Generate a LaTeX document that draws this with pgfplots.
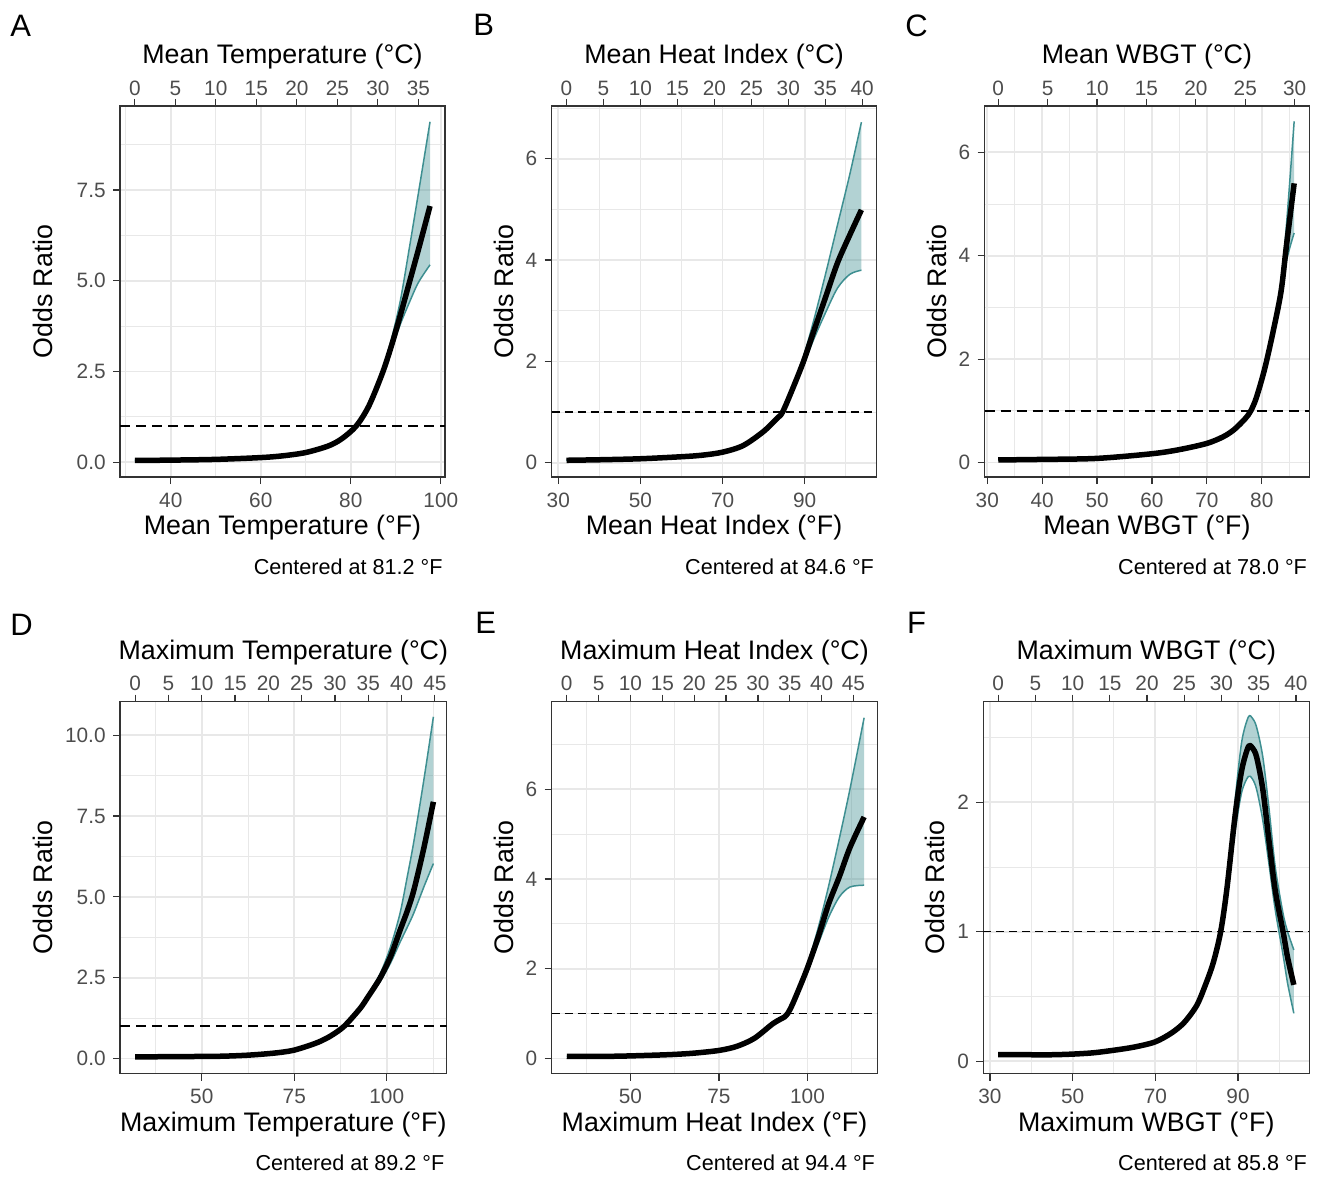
\documentclass[border=0pt]{standalone}
\usepackage{fontspec}
\setmainfont{Liberation Sans}
\usepackage{pgfplots}
\pgfplotsset{compat=1.18}
\usepackage{pgfplotstable}
\usepgfplotslibrary{fillbetween}
\definecolor{g20}{HTML}{333333}
\definecolor{g30}{HTML}{4D4D4D}
\definecolor{gridc}{HTML}{E8E8E8}
\definecolor{teal1}{RGB}{62,143,145}
\newcommand\ticksize{\fontsize{10.4}{12}\selectfont}
\newcommand\titlesize{\fontsize{13.4}{16}\selectfont}
\newcommand\capsize{\fontsize{10.8}{13}\selectfont}
\newcommand\lettersize{\fontsize{15.5}{18}\selectfont}

\pgfplotstableread{
F mid lo hi
32 0.05 0.05 0.05
40 0.06 0.06 0.06
50 0.08 0.08 0.08
60 0.13 0.13 0.13
65 0.18 0.18 0.18
70 0.27 0.27 0.27
75 0.45 0.45 0.45
78 0.65 0.65 0.65
81.2 1.00 1.00 1.00
84 1.55 1.54 1.56
87 2.45 2.38 2.55
89 3.20 3.08 3.38
91 4.05 3.80 4.45
93 4.95 4.40 5.90
95 5.85 4.95 7.40
97.6 7.06 5.44 9.38
}\tabA
\pgfplotstableread{
F mid lo hi
32 0.05 0.05 0.05
40 0.06 0.06 0.06
50 0.08 0.08 0.08
60 0.12 0.12 0.12
65 0.15 0.15 0.15
70 0.21 0.21 0.21
75 0.34 0.34 0.34
80 0.62 0.62 0.62
83.3 0.88 0.88 0.88
84.6 1.00 1.00 1.00
87 1.45 1.42 1.48
89.7 2.00 1.92 2.10
92 2.55 2.40 2.75
95 3.25 2.95 3.70
98 3.95 3.45 4.70
101 4.50 3.72 5.70
103.8 4.99 3.80 6.72
}\tabB
\pgfplotstableread{
F mid lo hi
32 0.05 0.05 0.05
40 0.06 0.06 0.06
50 0.08 0.08 0.08
60 0.17 0.17 0.17
65 0.25 0.25 0.25
70 0.37 0.37 0.37
73 0.50 0.50 0.50
75 0.64 0.64 0.64
77 0.85 0.85 0.85
78 1.00 1.00 1.00
79 1.25 1.24 1.26
80.5 1.80 1.77 1.83
82 2.50 2.42 2.60
83.5 3.30 3.15 3.50
84.5 4.20 3.90 4.60
85.9 5.40 4.44 6.60
}\tabC
\pgfplotstableread{
F mid lo hi
32 0.05 0.05 0.05
45 0.06 0.06 0.06
55 0.07 0.07 0.07
62 0.10 0.10 0.10
68 0.15 0.15 0.15
72 0.20 0.20 0.20
75 0.26 0.26 0.26
79 0.40 0.40 0.40
82 0.53 0.53 0.53
85 0.71 0.71 0.71
88.5 1.00 1.00 1.00
92.8 1.55 1.53 1.57
95 1.92 1.86 2.00
98.2 2.49 2.38 2.62
101 3.15 2.95 3.45
103.6 3.97 3.60 4.50
105.5 4.55 4.05 5.60
107.3 5.20 4.50 6.70
110 6.50 5.30 8.60
112.6 7.94 6.03 10.57
}\tabD
\pgfplotstableread{
F mid lo hi
32 0.05 0.05 0.05
45 0.05 0.05 0.05
55 0.07 0.07 0.07
62 0.09 0.09 0.09
68 0.12 0.12 0.12
75 0.18 0.18 0.18
80 0.27 0.27 0.27
85 0.45 0.45 0.45
90.3 0.78 0.78 0.78
93.6 0.93 0.93 0.93
94.4 1.00 1.00 1.00
96 1.25 1.24 1.27
99.8 1.98 1.90 2.05
103 2.70 2.55 2.90
106 3.45 3.15 3.85
109 4.05 3.60 4.90
112 4.70 3.82 6.00
116 5.38 3.86 7.59
}\tabE
\pgfplotstableread{
F mid lo hi
32 0.05 0.05 0.05
40 0.05 0.05 0.05
45 0.05 0.05 0.05
50 0.055 0.055 0.055
55 0.065 0.065 0.065
60 0.085 0.085 0.085
65 0.11 0.11 0.11
70 0.15 0.15 0.15
74 0.22 0.22 0.22
77 0.30 0.30 0.30
80 0.43 0.43 0.43
82 0.58 0.58 0.58
84 0.76 0.76 0.76
85.8 1.00 1.00 1.00
87.3 1.33 1.31 1.35
89.3 1.90 1.78 2.02
90.9 2.25 2.08 2.47
92.5 2.43 2.20 2.66
93.5 2.42 2.18 2.65
94.5 2.35 2.10 2.58
96 2.10 1.86 2.35
97.5 1.70 1.52 1.95
99 1.32 1.17 1.50
100.9 1.00 0.82 1.14
102 0.80 0.60 1.00
103.5 0.59 0.37 0.86
}\tabF

\pgfplotsset{
  base/.style={
    scale only axis, anchor=south west, clip mode=individual,
    axis line style={draw=g20, line width=0.6pt},
    tick align=outside, major tick length=3.5pt, minor tick length=0pt,
    tick style={draw=g20, line width=0.6pt},
    tick pos=left,
    grid=both,
    major grid style={draw=gridc, line width=0.9pt},
    minor grid style={draw=gridc, line width=0.5pt},
    ticklabel style={font=\ticksize, text=g30, inner sep=0pt},
    xticklabel style={anchor=center, yshift=-8pt},
    yticklabel style={anchor=east, xshift=-3.5pt},
    label style={font=\titlesize, text=black},
    xlabel style={at={([yshift=-25.5pt]axis description cs:0.5,0)}, anchor=center},
    ylabel={Odds Ratio},
  },
  topax/.style={
    scale only axis, anchor=south west,
    axis x line*=top, axis y line=none, ymin=0, ymax=1,
    axis line style={draw=g20, line width=0.6pt},
    tick align=outside, major tick length=3.5pt,
    tick style={draw=g20, line width=0.6pt},
    xticklabel style={font=\ticksize, text=g30, inner sep=0pt, anchor=center, yshift=5.5pt},
    xlabel style={font=\titlesize, text=black, at={([yshift=24.5pt]axis description cs:0.5,1)}, anchor=center},
  },
}
\newcommand\drawpanel[4]{%
  \addplot[draw=none, smooth, tension=0.5, name path=hi] table[x=F,y=hi]{#1};
  \addplot[draw=none, smooth, tension=0.5, name path=lo] table[x=F,y=lo]{#1};
  \addplot[fill=teal1, fill opacity=0.4, draw=none] fill between[of=hi and lo];
  \addplot[teal1, line width=0.75pt, smooth, tension=0.5] table[x=F,y=hi]{#1};
  \addplot[teal1, line width=0.75pt, smooth, tension=0.5] table[x=F,y=lo]{#1};
  \addplot[black, #4] coordinates {(#2,1) (#3,1)};
  \addplot[black, line width=2.75pt, line join=round, smooth, tension=0.5] table[x=F,y=mid]{#1};
}
\newcommand\dummy{\addplot[draw=none] coordinates {(10,0.5) (20,0.5)};}

\begin{document}
\begin{tikzpicture}
% ---------------- A
\begin{axis}[base, at={(60pt,-238.5pt)}, width=162.5pt, height=185.5pt,
  xmin=28.71, xmax=100.93, ymin=-0.405, ymax=9.816,
  xtick={40,60,80,100}, xticklabels={40,60,80,100}, minor xtick={30,50,70,90},
  ytick={0,2.5,5,7.5}, yticklabels={0.0,2.5,5.0,7.5}, minor ytick={1.25,3.75,6.25,8.75},
  xlabel={Mean Temperature (°F)}, ylabel style={at={([xshift=-38.5pt]axis description cs:0,0.5)}, anchor=center}]
  \drawpanel{\tabA}{28.71}{100.93}{line width=1pt, dash pattern=on 5pt off 3pt}
  \node[anchor=base east, inner sep=0pt, font=\capsize, xshift=-1pt, yshift=-48.5pt] at (rel axis cs:1,0) {Centered at 81.2 °F};
\end{axis}
\begin{axis}[topax, at={(60pt,-238.5pt)}, width=162.5pt, height=185.5pt,
  xmin=-1.828, xmax=38.294, xtick={0,5,10,15,20,25,30,35}, xticklabels={0,5,10,15,20,25,30,35},
  xlabel={Mean Temperature (°C)}]
  \dummy
\end{axis}
% ---------------- B
\begin{axis}[base, at={(275.85pt,-238.5pt)}, width=162.3pt, height=185.5pt,
  xmin=28.4, xmax=107.43, ymin=-0.28, ymax=7.04,
  xtick={30,50,70,90}, xticklabels={30,50,70,90}, minor xtick={40,60,80,100},
  ytick={0,2,4,6}, yticklabels={0,2,4,6}, minor ytick={1,3,5,7},
  xlabel={Mean Heat Index (°F)}, ylabel style={at={([xshift=-23.85pt]axis description cs:0,0.5)}, anchor=center}]
  \drawpanel{\tabB}{28.4}{107.43}{line width=0.65pt, dash pattern=on 4pt off 2.5pt}
  \node[anchor=base east, inner sep=0pt, font=\capsize, xshift=-1pt, yshift=-48.5pt] at (rel axis cs:1,0) {Centered at 84.6 °F};
\end{axis}
\begin{axis}[topax, at={(275.85pt,-238.5pt)}, width=162.3pt, height=185.5pt,
  xmin=-2.0, xmax=41.906, xtick={0,5,10,15,20,25,30,35,40}, xticklabels={0,5,10,15,20,25,30,35,40},
  xlabel={Mean Heat Index (°C)}]
  \dummy
\end{axis}
% ---------------- C
\begin{axis}[base, at={(492.25pt,-238.5pt)}, width=162.4pt, height=185.5pt,
  xmin=29.5, xmax=88.66, ymin=-0.28, ymax=6.896,
  xtick={30,40,50,60,70,80}, xticklabels={30,40,50,60,70,80}, minor xtick={35,45,55,65,75,85},
  ytick={0,2,4,6}, yticklabels={0,2,4,6}, minor ytick={1,3,5},
  xlabel={Mean WBGT (°F)}, ylabel style={at={([xshift=-24pt]axis description cs:0,0.5)}, anchor=center}]
  \drawpanel{\tabC}{29.5}{88.66}{line width=1pt, dash pattern=on 5pt off 3pt}
  \node[anchor=base east, inner sep=0pt, font=\capsize, xshift=-1pt, yshift=-48.5pt] at (rel axis cs:1,0) {Centered at 78.0 °F};
\end{axis}
\begin{axis}[topax, at={(492.25pt,-238.5pt)}, width=162.4pt, height=185.5pt,
  xmin=-1.389, xmax=31.478, xtick={0,5,10,15,20,25,30}, xticklabels={0,5,10,15,20,25,30},
  xlabel={Mean WBGT (°C)}]
  \dummy
\end{axis}
% ---------------- D
\begin{axis}[base, at={(60pt,-536.75pt)}, width=163.35pt, height=185.9pt,
  xmin=27.9, xmax=116.2, ymin=-0.464, ymax=11.036,
  xtick={50,75,100}, xticklabels={50,75,100}, minor xtick={37.5,62.5,87.5,112.5},
  ytick={0,2.5,5,7.5,10}, yticklabels={0.0,2.5,5.0,7.5,10.0}, minor ytick={1.25,3.75,6.25,8.75},
  xlabel={Maximum Temperature (°F)}, ylabel style={at={([xshift=-38.5pt]axis description cs:0,0.5)}, anchor=center}]
  \drawpanel{\tabD}{27.9}{116.2}{line width=1pt, dash pattern=on 5pt off 3pt}
  \node[anchor=base east, inner sep=0pt, font=\capsize, xshift=-1pt, yshift=-48.25pt] at (rel axis cs:1,0) {Centered at 89.2 °F};
\end{axis}
\begin{axis}[topax, at={(60pt,-536.75pt)}, width=163.35pt, height=185.9pt,
  xmin=-2.278, xmax=46.778, xtick={0,5,10,15,20,25,30,35,40,45}, xticklabels={0,5,10,15,20,25,30,35,40,45},
  xlabel={Maximum Temperature (°C)}]
  \dummy
\end{axis}
% ---------------- E
\begin{axis}[base, at={(275.85pt,-536.75pt)}, width=162.8pt, height=185.9pt,
  xmin=27.75, xmax=119.73, ymin=-0.334, ymax=7.947,
  xtick={50,75,100}, xticklabels={50,75,100}, minor xtick={37.5,62.5,87.5,112.5},
  ytick={0,2,4,6}, yticklabels={0,2,4,6}, minor ytick={1,3,5,7},
  xlabel={Maximum Heat Index (°F)}, ylabel style={at={([xshift=-23.85pt]axis description cs:0,0.5)}, anchor=center}]
  \drawpanel{\tabE}{27.75}{119.73}{line width=0.65pt, dash pattern=on 4pt off 2.5pt}
  \node[anchor=base east, inner sep=0pt, font=\capsize, xshift=-1pt, yshift=-48.25pt] at (rel axis cs:1,0) {Centered at 94.4 °F};
\end{axis}
\begin{axis}[topax, at={(275.85pt,-536.75pt)}, width=162.8pt, height=185.9pt,
  xmin=-2.361, xmax=48.739, xtick={0,5,10,15,20,25,30,35,40,45}, xticklabels={0,5,10,15,20,25,30,35,40,45},
  xlabel={Maximum Heat Index (°C)}]
  \dummy
\end{axis}
% ---------------- F
\begin{axis}[base, at={(491.65pt,-536.75pt)}, width=163pt, height=185.9pt,
  xmin=28.4, xmax=107.24, ymin=-0.095, ymax=2.778,
  xtick={30,50,70,90}, xticklabels={30,50,70,90}, minor xtick={40,60,80,100},
  ytick={0,1,2}, yticklabels={0,1,2}, minor ytick={0.5,1.5,2.5},
  xlabel={Maximum WBGT (°F)}, ylabel style={at={([xshift=-24pt]axis description cs:0,0.5)}, anchor=center}]
  \drawpanel{\tabF}{28.4}{107.24}{line width=0.65pt, dash pattern=on 4pt off 2.5pt}
  \node[anchor=base east, inner sep=0pt, font=\capsize, xshift=-1pt, yshift=-48.25pt] at (rel axis cs:1,0) {Centered at 85.8 °F};
\end{axis}
\begin{axis}[topax, at={(491.65pt,-536.75pt)}, width=163pt, height=185.9pt,
  xmin=-2.0, xmax=41.8, xtick={0,5,10,15,20,25,30,35,40}, xticklabels={0,5,10,15,20,25,30,35,40},
  xlabel={Maximum WBGT (°C)}]
  \dummy
\end{axis}
% ---------------- panel letters
\node[anchor=base west, inner sep=0pt, font=\lettersize] at (5pt,-18.35pt) {A};
\node[anchor=base west, inner sep=0pt, font=\lettersize] at (236.5pt,-18pt) {B};
\node[anchor=base west, inner sep=0pt, font=\lettersize] at (452.5pt,-18.25pt) {C};
\node[anchor=base west, inner sep=0pt, font=\lettersize] at (5pt,-317.5pt) {D};
\node[anchor=base west, inner sep=0pt, font=\lettersize] at (237.5pt,-316.75pt) {E};
\node[anchor=base west, inner sep=0pt, font=\lettersize] at (453.35pt,-316.75pt) {F};
\path (0,0) rectangle (660pt,-588pt);
\end{tikzpicture}
\end{document}
